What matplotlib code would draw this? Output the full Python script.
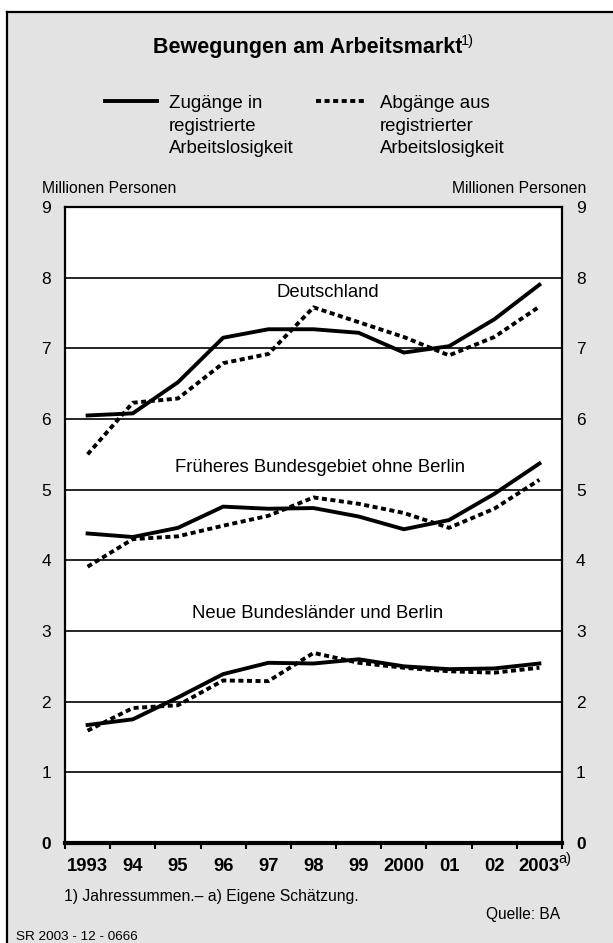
import matplotlib
matplotlib.use("Agg")
import matplotlib.pyplot as plt
from matplotlib.lines import Line2D
from matplotlib.patches import Rectangle

plt.rcParams['font.family'] = ['Liberation Sans', 'DejaVu Sans']

years = ["1993", "94", "95", "96", "97", "98", "99", "2000", "01", "02", "2003"]

# Deutschland
de_zu = [6.05, 6.08, 6.52, 7.15, 7.27, 7.27, 7.22, 6.94, 7.03, 7.41, 7.90]
de_ab = [5.50, 6.23, 6.29, 6.79, 6.92, 7.58, 7.37, 7.16, 6.90, 7.16, 7.59]
# Früheres Bundesgebiet ohne Berlin
west_zu = [4.38, 4.33, 4.46, 4.76, 4.73, 4.74, 4.62, 4.44, 4.57, 4.94, 5.37]
west_ab = [3.91, 4.30, 4.34, 4.49, 4.63, 4.89, 4.80, 4.67, 4.46, 4.73, 5.14]
# Neue Bundesländer und Berlin
ost_zu = [1.67, 1.75, 2.06, 2.39, 2.55, 2.54, 2.60, 2.50, 2.46, 2.47, 2.54]
ost_ab = [1.59, 1.91, 1.95, 2.30, 2.29, 2.69, 2.55, 2.48, 2.43, 2.41, 2.48]

region_names = ["Deutschland", "Früheres Bundesgebiet ohne Berlin", "Neue Bundesländer und Berlin"]
region_label_x = [5.82, 5.64, 5.60]
region_label_y = [7.79, 5.31, 3.25]

legend_zu = ["Zugänge in", "registrierte", "Arbeitslosigkeit"]
legend_ab = ["Abgänge aus", "registrierter", "Arbeitslosigkeit"]

W, H = 613, 943
fig = plt.figure(figsize=(W / 100, H / 100), dpi=100)
fig.patch.set_facecolor("white")


def fx(px):
    return px / W


def fy(py):
    return 1 - py / H


# gray panel with black frame on top and left
fig.patches.append(Rectangle((fx(7), 0), 1, fy(12), transform=fig.transFigure,
                             facecolor="#e3e3e3", edgecolor="none", zorder=-10))
fig.lines.append(Line2D([fx(7), fx(7)], [0, fy(12)], transform=fig.transFigure,
                        color="black", lw=1.6, zorder=-5))
fig.lines.append(Line2D([fx(7), 1], [fy(12), fy(12)], transform=fig.transFigure,
                        color="black", lw=1.6, zorder=-5))

ax = fig.add_axes([fx(65), fy(843), (562 - 65) / W, (843 - 207) / H])
ax.set_zorder(5)
ax.set_facecolor("white")
ax.set_xlim(0, 11)
ax.set_ylim(0, 9)

for y in range(1, 9):
    ax.axhline(y, color="black", lw=1.2, zorder=1)

x = [i + 0.5 for i in range(len(years))]
dot = (0, (1.3, 0.9))
for zu, ab in [(de_zu, de_ab), (west_zu, west_ab), (ost_zu, ost_ab)]:
    ax.plot(x, ab, color="black", lw=2.8, linestyle=dot, dash_capstyle="butt", zorder=3)
    ax.plot(x, zu, color="black", lw=2.8, solid_joinstyle="miter", zorder=4)

for name, lx, ly in zip(region_names, region_label_x, region_label_y):
    ax.text(lx, ly, name, ha="center", va="center", fontsize=13.3, zorder=5)

for s in ["left", "right", "top"]:
    ax.spines[s].set_linewidth(1.6)
ax.spines["bottom"].set_linewidth(3)

ax.set_yticks(range(10))
ax.set_yticklabels([str(v) for v in range(10)])
ax.tick_params(axis="y", length=0, labelright=True, right=False, labelleft=True,
               labelsize=12.5)
for t in ax.yaxis.get_major_ticks():
    t.set_pad(10)
ax.yaxis.get_major_ticks()[0].label1.set_fontweight("bold")
ax.yaxis.get_major_ticks()[0].label2.set_fontweight("bold")

ax.set_xticks(range(12))
ax.set_xticklabels([])
ax.tick_params(axis="x", which="major", length=4.5, width=1.5, direction="out")
ax.set_xticks(x, minor=True)
ax.set_xticklabels(years, minor=True, fontsize=13.3, fontweight="bold")
ax.tick_params(axis="x", which="minor", length=0, pad=10.5)

# superscript a) after 2003
ax.annotate("a)", xy=(x[-1], 0), xycoords="data", xytext=(14, -11.2),
            textcoords="offset points", fontsize=10.5, ha="left", va="center")

# title
fig.text(fx(153), fy(53), "Bewegungen am Arbeitsmarkt", ha="left", va="baseline",
         fontsize=15.5, fontweight="bold")
fig.text(fx(461), fy(41), "1)", ha="left", va="center", fontsize=10.5)

# legend
fig.lines.append(Line2D([fx(105), fx(157)], [fy(101)] * 2, transform=fig.transFigure,
                        color="black", lw=2.8))
fig.lines.append(Line2D([fx(316), fx(367)], [fy(101)] * 2, transform=fig.transFigure,
                        color="black", lw=2.8, linestyle=dot, dash_capstyle="butt"))
for i, (a, b) in enumerate(zip(legend_zu, legend_ab)):
    base = 108.5 + i * 22.5
    fig.text(fx(169), fy(base), a, ha="left", va="baseline", fontsize=13.4)
    fig.text(fx(380), fy(base), b, ha="left", va="baseline", fontsize=13.4)

# units
fig.text(fx(42), fy(193), "Millionen Personen", ha="left", va="baseline", fontsize=11.3)
fig.text(fx(586), fy(193), "Millionen Personen", ha="right", va="baseline", fontsize=11.3)

# footnotes
fig.text(fx(64), fy(901), "1) Jahressummen.– a) Eigene Schätzung.", ha="left",
         va="baseline", fontsize=11.3)
fig.text(fx(560), fy(919), "Quelle: BA", ha="right", va="baseline", fontsize=11.2)
fig.text(fx(16), fy(940), "SR 2003 - 12 - 0666", ha="left", va="baseline", fontsize=9.7)

fig.savefig("out.png", dpi=100)
